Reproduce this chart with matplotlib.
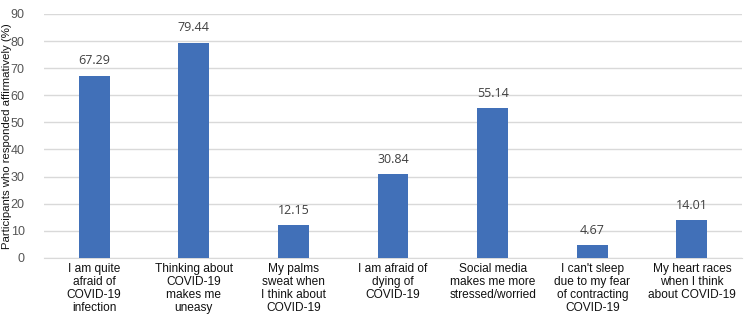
import matplotlib.pyplot as plt

categories = [
    "I am quite\nafraid of\nCOVID-19\ninfection",
    "Thinking about\nCOVID-19\nmakes me\nuneasy",
    "My palms\nsweat when\nI think about\nCOVID-19",
    "I am afraid of\ndying of\nCOVID-19",
    "Social media\nmakes me more\nstressed/worried",
    "I can't sleep\ndue to my fear\nof contracting\nCOVID-19",
    "My heart races\nwhen I think\nabout COVID-19",
]
values = [67.29, 79.44, 12.15, 30.84, 55.14, 4.67, 14.01]
yticks = [0, 10, 20, 30, 40, 50, 60, 70, 80, 90]

plt.rcParams['font.family'] = ['Liberation Sans', 'DejaVu Sans']

fig = plt.figure(figsize=(7.5, 3.18), dpi=100)
ax = fig.add_axes([0.059, 0.189, 0.93, 0.767])

x = range(len(categories))
ax.bar(x, values, width=0.31, color='#4170B8', zorder=3)

for xi, v in zip(x, values):
    ax.text(xi, v + 3, f"{v:.2f}", ha='center', va='bottom', fontsize=9,
            color='#404040', family=['Open Sans', 'DejaVu Sans'])

ax.set_xlim(-0.5, len(categories) - 0.5)
ax.set_ylim(0, 90)
ax.set_yticks(yticks)
ax.set_xticks(list(x))
ax.set_xticklabels(categories, fontsize=8.6, color='#111111', linespacing=1.1)
ax.tick_params(axis='y', labelsize=9, colors='#555555', length=0, pad=14)
ax.tick_params(axis='x', length=0, pad=4)
ax.grid(axis='y', color='#d9d9d9', linewidth=1, zorder=0)

for side in ['top', 'right', 'left']:
    ax.spines[side].set_visible(False)
ax.spines['bottom'].set_color('#d9d9d9')

ax.set_ylabel("Participants who responded affirmatively (%)", fontsize=8.2,
              color='#111111')
ax.yaxis.set_label_coords(-0.046, 0.5)

fig.savefig("out.png", dpi=100)
